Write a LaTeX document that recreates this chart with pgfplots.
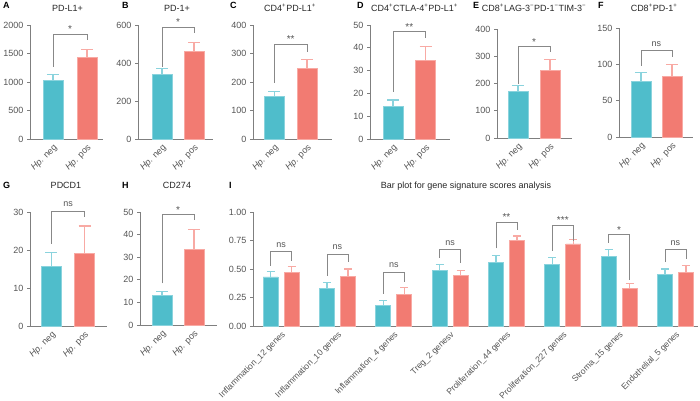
\documentclass[border=0pt]{standalone}
\usepackage{pgfplots}
\pgfplotsset{compat=1.18}
\usepackage{fontspec}
\setmainfont{Liberation Sans}
\definecolor{tealc}{HTML}{4FBDCB}
\definecolor{teallt}{HTML}{8AD3DD}
\definecolor{redc}{HTML}{F27B72}
\definecolor{redlt}{HTML}{F8AAA4}
\definecolor{axgray}{HTML}{7F7F7F}
\definecolor{txtgray}{HTML}{555555}
\definecolor{brgray}{HTML}{888888}
\pgfplotsset{
  base/.style={
    scale only axis, anchor=south west, clip=false,
    axis x line*=bottom, axis y line*=left,
    axis line style={draw=axgray, line width=0.8pt, -},
    ymin=0,
    tick align=outside, major tick length=3pt,
    ytick style={draw=axgray, line width=0.8pt},
    xtick style={draw=none},
    tick label style={font=\fontsize{9}{10}\selectfont, text=txtgray},
    /pgf/number format/assume math mode=true,
    /pgf/number format/1000 sep={},
  },
  small/.style={base, xtick={0,1},
    xticklabels={{\textit{Hp.} neg},{\textit{Hp.} pos}},
    xticklabel style={rotate=45, anchor=north east, inner sep=1pt}},
  tealbar/.style 2 args={ybar, bar width=#1, fill=tealc, draw=teallt, line width=0.8pt,
    error bars/.cd, y dir=plus, y explicit, error mark=-,
    error bar style={draw=teallt, line width=1.2pt},
    error mark options={rotate=90, draw=teallt, line width=1.2pt, mark size=#2}},
  redbar/.style 2 args={ybar, bar width=#1, fill=redc, draw=redlt, line width=0.8pt,
    error bars/.cd, y dir=plus, y explicit, error mark=-,
    error bar style={draw=redlt, line width=1.2pt},
    error mark options={rotate=90, draw=redlt, line width=1.2pt, mark size=#2}},
  bracket/.style={draw=brgray, line width=0.9pt, mark=none, sharp plot, forget plot},
}
\tikzset{
  sigs/.style={anchor=base, font=\fontsize{10}{10}\selectfont, text=txtgray, inner sep=0pt, yshift=1.5pt},
  signs/.style={anchor=base, font=\fontsize{9}{10}\selectfont, text=txtgray, inner sep=0pt, yshift=4.5pt},
  lett/.style={anchor=base west, font=\bfseries\fontsize{9}{10}\selectfont, inner sep=0pt},
  ttl/.style={anchor=base, font=\fontsize{9}{10}\selectfont, text=black!85, inner sep=0pt},
}
\begin{document}
\begin{tikzpicture}[x=1pt,y=1pt]
\useasboundingbox (0pt,0pt) rectangle (700pt,400pt);

% ---------- A ----------
\begin{axis}[small, at={(30pt,261pt)}, width=73pt, height=114pt,
  xmin=-0.676, xmax=1.47, ymax=2000, ytick={0,500,1000,1500,2000}]
\addplot[tealbar={20pt}{6pt}] table[x=x,y=y,y error=e,row sep=\\] {x y e\\ 0 1020 110\\};
\addplot[redbar={20pt}{6pt}] table[x=x,y=y,y error=e,row sep=\\] {x y e\\ 1 1433 140\\};
\addplot[bracket] coordinates {(0,1270) (0,1842) (1,1842) (1,1737)};
\node[sigs] at (axis cs:0.5,1842) {*};
\end{axis}

% ---------- B ----------
\begin{axis}[small, at={(138pt,261pt)}, width=75pt, height=114pt,
  xmin=-0.75, xmax=1.59, ymax=600, ytick={0,200,400,600}]
\addplot[tealbar={20pt}{6pt}] table[x=x,y=y,y error=e,row sep=\\] {x y e\\ 0 342 30\\};
\addplot[redbar={20pt}{6pt}] table[x=x,y=y,y error=e,row sep=\\] {x y e\\ 1 460 47\\};
\addplot[bracket] coordinates {(0,381) (0,588) (1,588) (1,556)};
\node[sigs] at (axis cs:0.5,588) {*};
\end{axis}

% ---------- C ----------
\begin{axis}[small, at={(253pt,261pt)}, width=79pt, height=114pt,
  xmin=-0.65, xmax=1.76, ymax=400, ytick={0,100,200,300,400}]
\addplot[tealbar={20pt}{6pt}] table[x=x,y=y,y error=e,row sep=\\] {x y e\\ 0 148 18\\};
\addplot[redbar={20pt}{6pt}] table[x=x,y=y,y error=e,row sep=\\] {x y e\\ 1 248 32\\};
\addplot[bracket] coordinates {(0,198) (0,332) (1,332) (1,306)};
\node[sigs] at (axis cs:0.5,332) {**};
\end{axis}

% ---------- D ----------
\begin{axis}[small, at={(370pt,261pt)}, width=80pt, height=114pt,
  xmin=-0.71, xmax=1.75, ymax=50, ytick={0,10,20,30,40,50}]
\addplot[tealbar={20pt}{6pt}] table[x=x,y=y,y error=e,row sep=\\] {x y e\\ 0 14.5 2.6\\};
\addplot[redbar={20pt}{6pt}] table[x=x,y=y,y error=e,row sep=\\] {x y e\\ 1 34.5 6\\};
\addplot[bracket] coordinates {(0,20.8) (0,47.1) (1,47.1) (1,44.2)};
\node[sigs] at (axis cs:0.5,47.1) {**};
\end{axis}

% ---------- E ----------
\begin{axis}[small, at={(497pt,262pt)}, width=75pt, height=109pt,
  xmin=-0.656, xmax=1.69, ymax=400, ytick={0,100,200,300,400}]
\addplot[tealbar={20pt}{6pt}] table[x=x,y=y,y error=e,row sep=\\] {x y e\\ 0 172 21\\};
\addplot[redbar={20pt}{6pt}] table[x=x,y=y,y error=e,row sep=\\] {x y e\\ 1 248 39\\};
\addplot[bracket] coordinates {(0,198) (0,335) (1,335) (1,317)};
\node[sigs] at (axis cs:0.5,335) {*};
\end{axis}

% ---------- F ----------
\begin{axis}[small, at={(619pt,263pt)}, width=74pt, height=109pt,
  xmin=-0.71, xmax=1.68, ymax=150, ytick={0,50,100,150}]
\addplot[tealbar={20pt}{6pt}] table[x=x,y=y,y error=e,row sep=\\] {x y e\\ 0 76 13\\};
\addplot[redbar={20pt}{6pt}] table[x=x,y=y,y error=e,row sep=\\] {x y e\\ 1 84 16\\};
\addplot[bracket] coordinates {(0,98) (0,118.5) (1,118.5) (1,110)};
\node[signs] at (axis cs:0.5,118.5) {ns};
\end{axis}

% ---------- G ----------
\begin{axis}[small, at={(30pt,74pt)}, width=77pt, height=114pt,
  xmin=-0.65, xmax=1.68, ymax=30, ytick={0,10,20,30}]
\addplot[tealbar={20pt}{6pt}] table[x=x,y=y,y error=e,row sep=\\] {x y e\\ 0 15.8 3.5\\};
\addplot[redbar={20pt}{6pt}] table[x=x,y=y,y error=e,row sep=\\] {x y e\\ 1 19.0 7.3\\};
\addplot[bracket] coordinates {(0,21.7) (0,30.2) (1,30.2) (1,28.7)};
\node[signs] at (axis cs:0.5,30.2) {ns};
\end{axis}

% ---------- H ----------
\begin{axis}[small, at={(140pt,75pt)}, width=77pt, height=113pt,
  xmin=-0.69, xmax=1.72, ymax=50, ytick={0,10,20,30,40,50}]
\addplot[tealbar={20pt}{6pt}] table[x=x,y=y,y error=e,row sep=\\] {x y e\\ 0 13.1 1.75\\};
\addplot[redbar={20pt}{6pt}] table[x=x,y=y,y error=e,row sep=\\] {x y e\\ 1 33.4 8.8\\};
\addplot[bracket] coordinates {(0,18.4) (0,48.8) (1,48.8) (1,46.3)};
\node[sigs] at (axis cs:0.5,48.8) {*};
\end{axis}

% ---------- I ----------
\begin{axis}[base, at={(253pt,74pt)}, width=445pt, height=114pt,
  xmin=-0.5, xmax=7.4, ymax=1, ytick={0,0.25,0.5,0.75,1},
  yticklabel style={/pgf/number format/.cd, fixed, fixed zerofill, precision=2},
  xtick={0,1,2,3,4,5,6,7},
  xticklabels={Inflammation\_12 genes, Inflammation\_10 genes, Inflammation\_4 genes,
    Treg\_2 genesv, Proliferation\_44 genes, Proliferation\_227 genes,
    Stroma\_15 genes, Endothelial\_5 genes},
  xticklabel style={rotate=45, anchor=north east, inner sep=1pt, font=\fontsize{8.6}{9}\selectfont}]
\addplot[tealbar={15pt}{4pt}] table[x=x,y=y,y error=e,row sep=\\] {x y e\\
 -0.1865 0.43 0.05\\ 0.8135 0.33 0.05\\ 1.8135 0.18 0.045\\ 2.8135 0.49 0.05\\
 3.8135 0.56 0.06\\ 4.8135 0.54 0.06\\ 5.8135 0.61 0.06\\ 6.8135 0.45 0.05\\};
\addplot[redbar={15pt}{4pt}] table[x=x,y=y,y error=e,row sep=\\] {x y e\\
 0.1865 0.47 0.05\\ 1.1865 0.435 0.065\\ 2.1865 0.275 0.06\\ 3.1865 0.44 0.05\\
 4.1865 0.75 0.04\\ 5.1865 0.72 0.04\\ 6.1865 0.33 0.04\\ 7.1865 0.47 0.06\\};
\addplot[bracket] coordinates {(-0.1865,0.53) (-0.1865,0.65) (0.1865,0.65) (0.1865,0.57)};
\addplot[bracket] coordinates {(0.8135,0.44) (0.8135,0.63) (1.1865,0.63) (1.1865,0.56)};
\addplot[bracket] coordinates {(1.8135,0.285) (1.8135,0.47) (2.1865,0.47) (2.1865,0.39)};
\addplot[bracket] coordinates {(2.8135,0.60) (2.8135,0.67) (3.1865,0.67) (3.1865,0.55)};
\addplot[bracket] coordinates {(3.8135,0.68) (3.8135,0.91) (4.1865,0.91) (4.1865,0.84)};
\addplot[bracket] coordinates {(4.8135,0.66) (4.8135,0.885) (5.1865,0.885) (5.1865,0.75)};
\addplot[bracket] coordinates {(5.8135,0.73) (5.8135,0.80) (6.1865,0.80) (6.1865,0.40)};
\addplot[bracket] coordinates {(6.8135,0.56) (6.8135,0.67) (7.1865,0.67) (7.1865,0.59)};
\node[signs] at (axis cs:0,0.65) {ns};
\node[signs] at (axis cs:1,0.63) {ns};
\node[signs] at (axis cs:2,0.47) {ns};
\node[signs] at (axis cs:3,0.67) {ns};
\node[sigs] at (axis cs:4,0.91) {**};
\node[sigs] at (axis cs:5,0.885) {***};
\node[sigs] at (axis cs:6,0.80) {*};
\node[signs] at (axis cs:7,0.67) {ns};
\end{axis}

% ---------- letters and titles ----------
\node[lett] at (3pt,391pt) {A};
\node[lett] at (122pt,391pt) {B};
\node[lett] at (230pt,391pt) {C};
\node[lett] at (357pt,391pt) {D};
\node[lett] at (473pt,391pt) {E};
\node[lett] at (598pt,391pt) {F};
\node[lett] at (3pt,212pt) {G};
\node[lett] at (122pt,212pt) {H};
\node[lett] at (229pt,212pt) {I};
\node[ttl] at (67.5pt,388.5pt) {PD-L1+};
\node[ttl] at (177pt,388.5pt) {PD-1+};
\node[ttl] at (290pt,388.5pt) {CD4\textsuperscript{+}PD-L1\textsuperscript{+}};
\node[ttl] at (414.5pt,388.5pt) {CD4\textsuperscript{+}CTLA-4\textsuperscript{+}PD-L1\textsuperscript{+}};
\node[ttl] at (534pt,388.5pt) {CD8\textsuperscript{+}LAG-3\textsuperscript{−}PD-1\textsuperscript{−}TIM-3\textsuperscript{−}};
\node[ttl] at (654pt,388.5pt) {CD8\textsuperscript{+}PD-1\textsuperscript{+}};
\node[ttl] at (66pt,212pt) {PDCD1};
\node[ttl] at (177pt,212pt) {CD274};
\node[ttl] at (466pt,212pt) {Bar plot for gene signature scores analysis};
\end{tikzpicture}
\end{document}
